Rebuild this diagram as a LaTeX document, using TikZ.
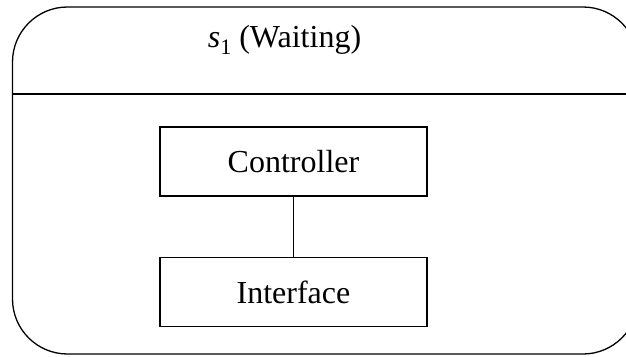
\documentclass[tikz,border=0pt]{standalone}
\usepackage{fontspec}
\setmainfont{Liberation Serif}
\begin{document}
\begin{tikzpicture}[x=1pt,y=-1pt,
  line width=1.3pt,
  comp/.style={draw, minimum width=267pt, minimum height=69pt, inner sep=0pt,
    font=\fontsize{32}{38}\selectfont},
  titletext/.style={font=\fontsize{32}{38}\selectfont, inner sep=0pt}]
\useasboundingbox (0,0) rectangle (626,356);
\draw[rounded corners=55pt] (12.5,7) rectangle (638,354);
\coordinate (dl) at (12.5,94);
\coordinate (dr) at (632,94);
\draw (dl) -- (dr);
\node[titletext, anchor=base] (title) at (284.5,47)
  {\textit{s}\raisebox{-0.22em}{\fontsize{22}{22}\selectfont 1}\hspace{0.25em}(Waiting)};
\node[comp] (ctrl) at (293.5,161.5) {Controller};
\node[comp] (intf) at (293.5,292) {Interface};
\draw (ctrl) -- (intf);
\end{tikzpicture}
\end{document}
